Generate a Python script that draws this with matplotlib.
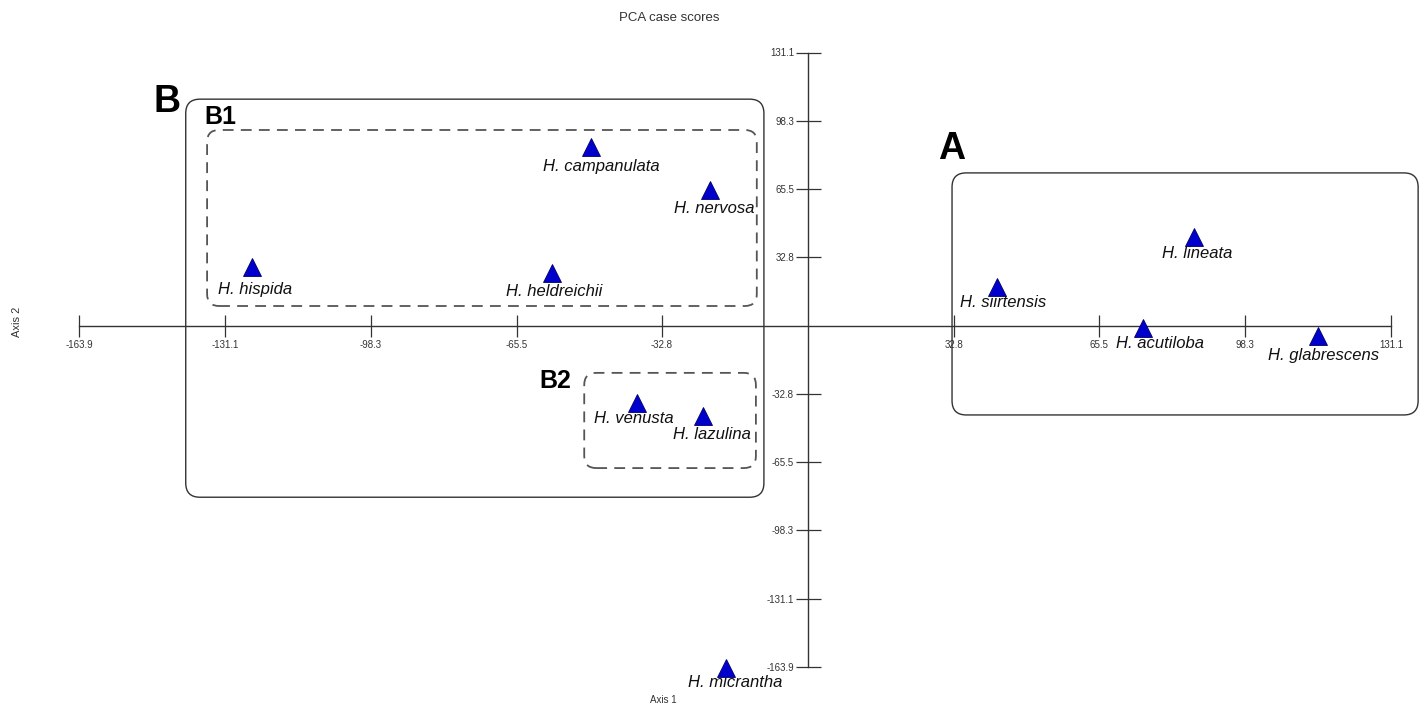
import matplotlib
matplotlib.use("Agg")
import matplotlib.pyplot as plt
from matplotlib.patches import FancyBboxPatch

plt.rcParams['font.family'] = ['Liberation Sans', 'DejaVu Sans']

# PCA case scores (axis 1, axis 2)
species = ["H. hispida", "H. heldreichii", "H. campanulata", "H. nervosa",
           "H. venusta", "H. lazulina", "H. micrantha", "H. siirtensis",
           "H. lineata", "H. acutiloba", "H. glabrescens"]
axis1 = [-125.0, -57.6, -48.8, -22.0, -38.5, -23.6, -18.4, 42.5, 86.8, 75.3, 114.7]
axis2 = [28.1, 25.3, 85.7, 65.1, -37.2, -43.3, -164.3, 18.5, 42.5, -1.2, -5.0]

tick_vals = [-163.9, -131.1, -98.3, -65.5, -32.8, 32.8, 65.5, 98.3, 131.1]
tick_labels = ["-163.9", "-131.1", "-98.3", "-65.5", "-32.8", "32.8", "65.5", "98.3", "131.1"]

# group boxes: name, x0, y0, x1, y1, dashed
groups = [("B", -139.9, -82.4, -9.9, 108.7, False),
          ("B1", -135.1, 9.4, -11.5, 93.9, True),
          ("B2", -50.3, -68.4, -11.7, -22.7, True),
          ("A", 32.4, -42.9, 137.2, 73.3, False)]
group_labels = {"B": (-144.1, 107.5, 27), "B1": (-132.0, 100.1, 18),
                "B2": (-56.9, -26.7, 18), "A": (32.2, 84.8, 27)}

# label offsets in pixels (dx, dy)
label_off = [(3, -22), (2, -19), (10, -19), (4, -19), (-3, -15), (9, -19),
             (9, -15), (6, -15), (3, -16), (17, -15), (6, -19)]

W, H = 1426, 705
fig = plt.figure(figsize=(W / 100, H / 100), dpi=100)
ax = fig.add_axes([79 / W, 1 - 667 / H, (1391 - 79) / W, (667 - 52.5) / H])
ax.set_xlim(-163.9, 131.1)
ax.set_ylim(-163.9, 131.1)

for s in ['top', 'right']:
    ax.spines[s].set_visible(False)
ax.spines['left'].set_position(('data', 0))
ax.spines['bottom'].set_position(('data', 0))
for s in ['left', 'bottom']:
    ax.spines[s].set_color('#333333')
    ax.spines[s].set_linewidth(1.0)

ax.set_xticks(tick_vals)
ax.set_xticklabels(tick_labels)
ax.set_yticks(tick_vals)
ax.set_yticklabels(tick_labels)
ax.tick_params(axis='x', direction='inout', length=16.5, width=0.9, color='#333333',
               labelsize=7, labelcolor='#333333', pad=2)
ax.tick_params(axis='y', direction='inout', length=18, width=0.9, color='#333333',
               labelsize=7, labelcolor='#333333', pad=1)

ax.plot(axis1, axis2, linestyle='none', marker='^', markersize=13,
        markerfacecolor='#0000cc', markeredgecolor='#000066', markeredgewidth=0.6,
        clip_on=False, zorder=5)

for name, x, y, (dx, dy) in zip(species, axis1, axis2, label_off):
    ax.annotate(name, (x, y), xytext=(dx, dy), textcoords='offset pixels',
                ha='center', va='center', fontsize=12, style='italic',
                color='#111111', annotation_clip=False)

# rounded boxes; mutation_aspect keeps the corners round on screen
aspect = (1312 / 295) / (614.5 / 295)
for name, x0, y0, x1, y1, dashed in groups:
    box = FancyBboxPatch((x0, y0), x1 - x0, y1 - y0,
                         boxstyle="round,pad=0,rounding_size=%s" % (2.7 if dashed else 3.2),
                         mutation_aspect=aspect, fill=False,
                         edgecolor='#555555' if dashed else '#333333',
                         linewidth=1.3 if dashed else 1.0,
                         linestyle=(0, (6, 4)) if dashed else '-',
                         clip_on=False)
    ax.add_patch(box)
    lx, ly, fs = group_labels[name]
    ax.text(lx, ly, name, fontsize=fs, fontweight='bold', ha='center', va='center')

fig.text(669 / W, 1 - 18 / H, "PCA case scores", fontsize=9.5, color='#333333',
         ha='center', va='center')
fig.text(663 / W, 1 - 700 / H, "Axis 1", fontsize=7, color='#333333',
         ha='center', va='center')
fig.text(17 / W, 1 - 322 / H, "Axis 2", fontsize=8, color='#333333',
         ha='center', va='center', rotation=90)

fig.savefig("out.png", dpi=100)
